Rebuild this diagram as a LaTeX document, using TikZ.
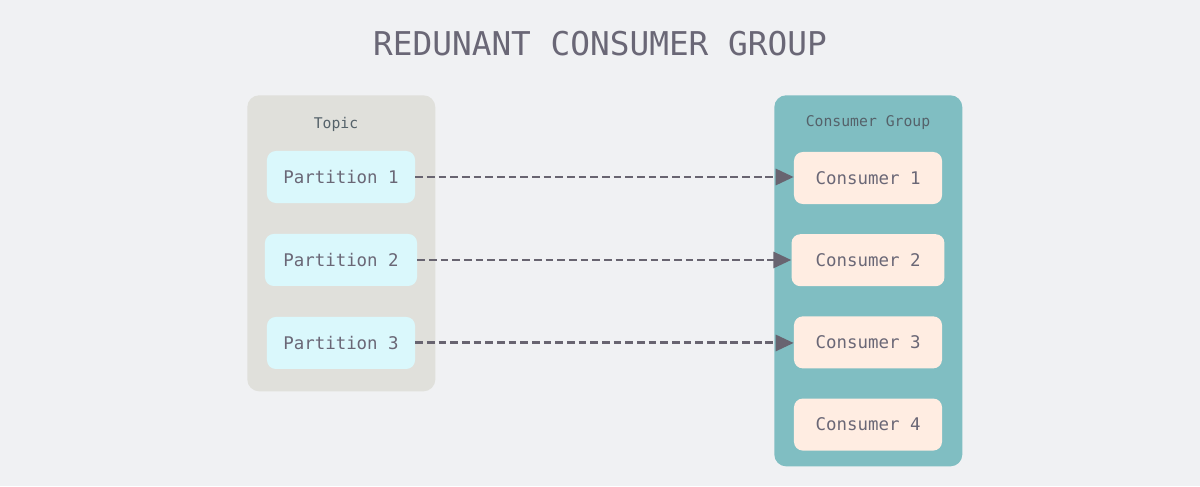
\documentclass[tikz,border=0pt]{standalone}
\usepackage{fontspec}
\setmainfont{DejaVu Sans Mono}
\usepackage{tikz}
\usetikzlibrary{positioning,arrows.meta}
\definecolor{pagegray}{RGB}{240,241,243}
\definecolor{topicgray}{RGB}{224,224,219}
\definecolor{groupteal}{RGB}{128,190,194}
\definecolor{partcyan}{RGB}{218,248,252}
\definecolor{conspeach}{RGB}{255,237,226}
\definecolor{inkgray}{RGB}{106,103,118}
\definecolor{labelslate}{RGB}{85,98,106}
\definecolor{arrowgray}{RGB}{104,100,112}

\begin{document}
\begin{tikzpicture}[
      x=0.025cm, y=-0.025cm,
      node distance=0.775cm,
      container/.style={rectangle, rounded corners=0.3cm, minimum width=4.7cm, inner sep=0pt, anchor=north west},
      part/.style={rectangle, fill=partcyan, rounded corners=0.22cm, minimum width=3.7cm, minimum height=1.3cm, font=\fontsize{12.4}{14}\selectfont, text=inkgray},
      cons/.style={rectangle, fill=conspeach, rounded corners=0.22cm, minimum width=3.7cm, minimum height=1.3cm, font=\fontsize{12.4}{14}\selectfont, text=inkgray},
      lab/.style={font=\fontsize{10.5}{12}\selectfont, text=labelslate},
      arrow/.style={-{Triangle[length=0.45cm, width=0.4cm]}, draw=arrowgray, line width=2.1pt, dash pattern=on 5.5pt off 2.8pt}
    ]

    \fill[pagegray] (0,0) rectangle (1200,486);
    \useasboundingbox (0,0) rectangle (1200,486);

    \node[font=\fontsize{23.3}{28}\selectfont, text=inkgray] (title) at (600,44) {REDUNANT CONSUMER GROUP};

    % topic side
    \node[container, fill=topicgray, minimum height=7.4cm] (topic) at (247,95) {};
    \node[lab] (topiclab) at (336,124) {Topic};
    \node[part] (p1) at (341,177) {Partition 1};
    \node[part, below=0.76cm of p1, minimum width=3.8cm] (p2) {Partition 2};
    \node[part, below=0.76cm of p2] (p3) {Partition 3};

    % consumer group side
    \node[container, fill=groupteal, minimum height=9.275cm] (group) at (774,95) {};
    \node[lab] (grouplab) at (868,123) {Consumer Group};
    \node[cons] (c1) at (868,178) {Consumer 1};
    \node[cons, below=0.74cm of c1, minimum width=3.82cm] (c2) {Consumer 2};
    \node[cons, below=0.74cm of c2] (c3) {Consumer 3};
    \node[cons, below=0.74cm of c3] (c4) {Consumer 4};

    \draw[arrow] (p1.east) -- (p1.east -| c1.west);
    \draw[arrow] (p2.east) -- (p2.east -| c2.west);
    \draw[arrow] (p3.east) -- (p3.east -| c3.west);
    \end{tikzpicture}
\end{document}
